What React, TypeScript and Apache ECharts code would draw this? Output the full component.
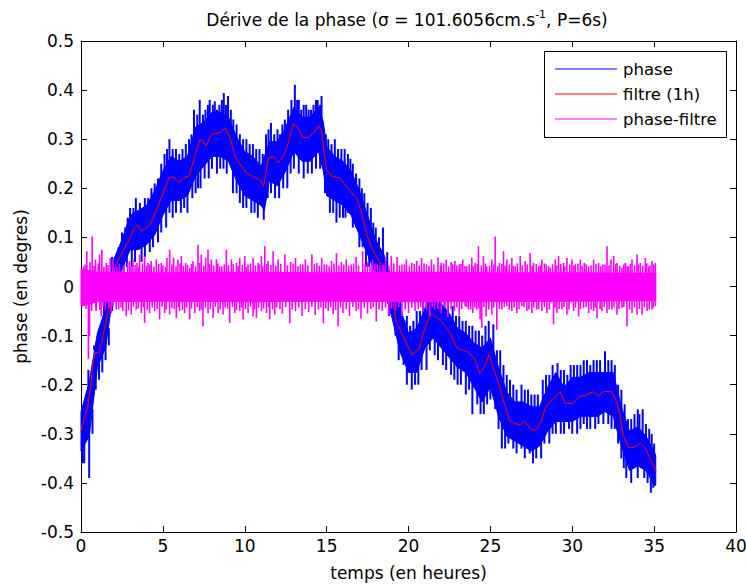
import React, { useEffect, useRef } from "react";
import * as echarts from "echarts";

const FONT = "DejaVu Sans";

const titleMain = "Dérive de la phase (σ = 101.6056cm.s";
const titleSup = "-1";
const titleEnd = ", P=6s)";
const xName = "temps (en heures)";
const yName = "phase (en degres)";
const legendNames = ["phase", "filtre (1h)", "phase-filtre"];
const legendColors = ["#0000ff", "#ff0000", "#ff00ff"];

// filtered phase (red line) [t, value]
const filtre: [number, number][] = [
  [0, -0.295], [0.2, -0.27], [0.4, -0.247], [0.6, -0.203], [0.7, -0.162], [0.85, -0.135],
  [1.1, -0.135], [1.3, -0.108], [1.6, -0.06], [1.8, -0.033], [2.05, 0.035], [2.15, 0.045],
  [2.4, 0.062], [2.85, 0.089], [3.25, 0.119], [3.45, 0.125], [3.7, 0.113], [4.2, 0.125],
  [4.6, 0.155], [5.0, 0.19], [5.4, 0.223], [5.7, 0.222], [6.0, 0.212], [6.3, 0.222],
  [6.6, 0.225], [6.95, 0.265], [7.25, 0.299], [7.45, 0.296], [7.65, 0.286], [7.95, 0.31],
  [8.2, 0.312], [8.5, 0.313], [8.8, 0.323], [9.1, 0.303], [9.4, 0.265], [9.7, 0.25],
  [10.1, 0.231], [10.5, 0.224], [10.9, 0.218], [11.15, 0.204], [11.45, 0.262], [11.75, 0.265],
  [12.05, 0.252], [12.35, 0.265], [12.65, 0.292], [12.95, 0.331], [13.25, 0.323], [13.55, 0.303],
  [13.9, 0.304], [14.2, 0.313], [14.5, 0.327], [14.7, 0.316], [14.85, 0.272], [15.0, 0.238],
  [15.3, 0.225], [15.8, 0.221], [16.2, 0.204], [16.45, 0.194], [16.85, 0.18], [17.15, 0.147],
  [17.45, 0.106], [17.75, 0.079], [18.15, 0.055], [18.45, 0.038], [18.75, 0.01], [19.0, -0.02],
  [19.25, -0.07], [19.65, -0.1], [20.2, -0.139], [20.65, -0.127], [21.0, -0.084], [21.35, -0.055],
  [21.8, -0.064], [22.15, -0.077], [22.55, -0.095], [22.95, -0.125], [23.6, -0.133], [24.0, -0.145],
  [24.35, -0.177], [24.65, -0.164], [24.92, -0.139], [25.17, -0.166], [25.47, -0.194], [25.88, -0.241],
  [26.2, -0.275], [26.8, -0.282], [27.1, -0.275], [27.5, -0.292], [27.8, -0.292], [28.1, -0.275],
  [28.35, -0.248], [28.65, -0.234], [28.95, -0.227], [29.25, -0.214], [29.55, -0.238], [30.05, -0.238],
  [30.45, -0.224], [30.85, -0.221], [31.3, -0.214], [31.6, -0.224], [31.9, -0.214], [32.4, -0.214],
  [32.7, -0.234], [32.9, -0.261], [33.1, -0.302], [33.45, -0.329], [33.85, -0.326], [34.15, -0.319],
  [34.45, -0.329], [34.75, -0.35], [35.12, -0.377],
];

// raw phase: dense band [t, low, high]
const phaseBand: [number, number, number][] = [
  [0, -0.335, -0.255], [0.5, -0.305, -0.195], [1.0, -0.165, -0.095], [1.5, -0.125, -0.045],
  [2.0, -0.005, 0.055], [2.5, 0.035, 0.095], [3.0, 0.075, 0.145], [3.5, 0.075, 0.155],
  [4.0, 0.085, 0.165], [4.5, 0.105, 0.195], [5.0, 0.145, 0.235], [5.5, 0.175, 0.265],
  [6.0, 0.175, 0.255], [6.5, 0.185, 0.265], [7.0, 0.225, 0.325], [7.5, 0.245, 0.335],
  [8.0, 0.265, 0.355], [8.5, 0.265, 0.355], [9.0, 0.255, 0.345], [9.5, 0.215, 0.305],
  [10.0, 0.185, 0.275], [10.5, 0.175, 0.265], [11.0, 0.165, 0.245], [11.2, 0.155, 0.265],
  [11.5, 0.215, 0.295], [12.0, 0.205, 0.295], [12.5, 0.235, 0.325], [13.0, 0.275, 0.365],
  [13.5, 0.255, 0.345], [14.0, 0.255, 0.345], [14.5, 0.275, 0.365], [14.8, 0.235, 0.335],
  [15.0, 0.185, 0.285], [15.5, 0.175, 0.265], [16.0, 0.165, 0.255], [16.5, 0.145, 0.235],
  [17.0, 0.105, 0.195], [17.5, 0.065, 0.145], [18.0, 0.025, 0.095], [18.5, -0.005, 0.065],
  [19.0, -0.065, 0.015], [19.5, -0.135, -0.045], [20.0, -0.175, -0.095], [20.5, -0.175, -0.085],
  [21.0, -0.125, -0.045], [21.5, -0.105, -0.015], [22.0, -0.125, -0.035], [22.5, -0.145, -0.055],
  [23.0, -0.165, -0.085], [23.5, -0.175, -0.095], [24.0, -0.205, -0.115], [24.5, -0.235, -0.125],
  [25.0, -0.205, -0.105], [25.5, -0.265, -0.165], [26.0, -0.305, -0.215], [26.5, -0.315, -0.235],
  [27.0, -0.325, -0.235], [27.5, -0.335, -0.245], [28.0, -0.325, -0.245], [28.5, -0.295, -0.205],
  [29.0, -0.275, -0.175], [29.5, -0.275, -0.205], [30.0, -0.275, -0.185], [30.5, -0.265, -0.185],
  [31.0, -0.265, -0.175], [31.5, -0.265, -0.175], [32.0, -0.255, -0.175], [32.5, -0.265, -0.175],
  [33.0, -0.325, -0.245], [33.5, -0.375, -0.295], [34.0, -0.365, -0.285], [34.5, -0.375, -0.305],
  [35.0, -0.405, -0.335], [35.1, -0.405, -0.345],
];

// raw phase spikes above / below the band [t, tip]
const phaseSpikesUp: [number, number][] = [
  [0.45, -0.17], [1.2, -0.08], [1.55, -0.01], [2.3, 0.08], [2.7, 0.12], [3.0, 0.16], [3.35, 0.18],
  [3.9, 0.18], [4.3, 0.2], [4.7, 0.22], [5.1, 0.27], [5.4, 0.3], [5.8, 0.28], [6.2, 0.28],
  [6.6, 0.3], [6.9, 0.36], [7.25, 0.38], [7.6, 0.36], [7.86, 0.38], [8.17, 0.377], [8.45, 0.37],
  [8.72, 0.394], [8.98, 0.388], [9.3, 0.34], [9.7, 0.31], [10.1, 0.3], [10.5, 0.29], [10.9, 0.28],
  [11.3, 0.31], [11.6, 0.333], [12.0, 0.32], [12.3, 0.33], [12.65, 0.36], [13.06, 0.411], [13.3, 0.38],
  [13.6, 0.37], [13.9, 0.36], [14.2, 0.37], [14.45, 0.38], [14.69, 0.388], [15.1, 0.3], [15.5, 0.3],
  [15.9, 0.28], [16.3, 0.27], [16.6, 0.25], [17.0, 0.22], [17.3, 0.19], [17.7, 0.16], [18.0, 0.12],
  [18.44, 0.12], [19.3, -0.02], [19.9, -0.06], [20.5, -0.05], [20.9, -0.02], [21.3, 0.0], [21.7, -0.01],
  [22.2, -0.02], [22.7, -0.04], [23.1, -0.06], [23.5, -0.07], [23.9, -0.08], [24.3, -0.09], [24.7, -0.08],
  [25.18, -0.077], [25.6, -0.13], [26.0, -0.18], [26.4, -0.2], [26.9, -0.2], [27.3, -0.21], [27.7, -0.22],
  [28.2, -0.19], [28.6, -0.18], [29.1, -0.156], [29.5, -0.17], [29.9, -0.16], [30.3, -0.16], [30.7, -0.15],
  [31.1, -0.16], [31.5, -0.15], [32.0, -0.132], [32.4, -0.15], [32.8, -0.2], [33.2, -0.24], [33.6, -0.27],
  [34.0, -0.25], [34.3, -0.25], [34.7, -0.29], [35.0, -0.32],
  [0.3, -0.22], [0.8, -0.12], [1.4, -0.03], [1.9, 0.06], [2.5, 0.11], [2.85, 0.14], [3.2, 0.16],
  [3.6, 0.17], [4.1, 0.18], [4.5, 0.21], [4.9, 0.25], [5.25, 0.28], [5.6, 0.28], [6.0, 0.27],
  [6.4, 0.29], [6.75, 0.31], [7.1, 0.35], [7.45, 0.35], [7.75, 0.37], [8.05, 0.37], [8.3, 0.36],
  [8.6, 0.38], [8.85, 0.37], [9.15, 0.36], [9.5, 0.33], [9.9, 0.3], [10.3, 0.29], [10.7, 0.28],
  [11.1, 0.27], [11.45, 0.32], [11.8, 0.31], [12.15, 0.31], [12.45, 0.34], [12.85, 0.38], [13.2, 0.38],
  [13.45, 0.36], [13.75, 0.37], [14.05, 0.36], [14.35, 0.38], [14.6, 0.37], [14.95, 0.31], [15.3, 0.29],
  [15.7, 0.28], [16.1, 0.28], [16.45, 0.26], [16.8, 0.23], [17.15, 0.2], [17.5, 0.17], [17.85, 0.13],
  [18.2, 0.1], [18.7, 0.07], [19.1, 0.02], [19.5, -0.03], [19.75, -0.07], [20.1, -0.08], [20.3, -0.07],
  [20.7, -0.05], [21.1, -0.02], [21.5, 0.0], [21.9, -0.02], [22.4, -0.03], [22.9, -0.06], [23.3, -0.07],
  [23.7, -0.08], [24.1, -0.09], [24.5, -0.1], [24.9, -0.07], [25.4, -0.13], [25.8, -0.16], [26.2, -0.19],
  [26.6, -0.21], [27.1, -0.21], [27.5, -0.22], [27.9, -0.22], [28.4, -0.18], [28.8, -0.16], [29.3, -0.17],
  [29.7, -0.18], [30.1, -0.16], [30.5, -0.16], [30.9, -0.15], [31.3, -0.15], [31.7, -0.15], [32.2, -0.15],
  [32.6, -0.16], [33.0, -0.21], [33.4, -0.27], [33.8, -0.26], [34.1, -0.26], [34.5, -0.28], [34.85, -0.3],
];
const phaseSpikesDown: [number, number][] = [
  [0.2, -0.36], [0.5, -0.39], [0.9, -0.21], [1.3, -0.175], [1.7, -0.12], [2.6, 0.0], [3.1, 0.04],
  [3.7, 0.05], [4.2, 0.07], [4.7, 0.09], [5.2, 0.12], [5.6, 0.14], [6.1, 0.15], [6.5, 0.15],
  [7.0, 0.19], [7.3, 0.2], [7.8, 0.22], [8.3, 0.23], [8.7, 0.24], [9.28, 0.19], [9.7, 0.17],
  [10.1, 0.16], [10.6, 0.15], [11.16, 0.136], [11.6, 0.19], [12.1, 0.18], [12.6, 0.2], [13.0, 0.24],
  [13.6, 0.22], [14.1, 0.23], [14.6, 0.24], [15.2, 0.15], [15.6, 0.13], [16.0, 0.14], [16.3, 0.15],
  [16.8, 0.12], [17.2, 0.08], [17.6, 0.04], [18.0, 0.0], [19.2, -0.1], [19.7, -0.16], [20.2, -0.21],
  [20.6, -0.2], [21.1, -0.17], [21.6, -0.14], [22.1, -0.16], [22.6, -0.18], [23.0, -0.2], [23.5, -0.22],
  [23.9, -0.26], [24.4, -0.26], [24.8, -0.24], [25.3, -0.25], [25.7, -0.33], [26.1, -0.32], [26.4, -0.33],
  [26.9, -0.33], [27.4, -0.34], [27.8, -0.35], [28.3, -0.32], [28.8, -0.3], [29.3, -0.3], [29.8, -0.29],
  [30.3, -0.3], [30.7, -0.28], [31.1, -0.29], [31.6, -0.28], [32.2, -0.28], [32.6, -0.29], [33.0, -0.35],
  [33.3, -0.39], [33.8, -0.37], [34.2, -0.37], [34.6, -0.4], [34.95, -0.41],
  [0.1, -0.36], [0.7, -0.3], [1.1, -0.19], [1.5, -0.15], [1.9, -0.05], [2.3, 0.0], [2.8, 0.04],
  [3.3, 0.05], [3.9, 0.06], [4.4, 0.08], [4.9, 0.11], [5.4, 0.15], [5.8, 0.15], [6.3, 0.16],
  [6.8, 0.18], [7.15, 0.2], [7.55, 0.22], [8.0, 0.24], [8.5, 0.24], [8.9, 0.23], [9.5, 0.19],
  [9.9, 0.16], [10.4, 0.15], [10.8, 0.14], [11.4, 0.18], [11.85, 0.18], [12.35, 0.2], [12.8, 0.23],
  [13.3, 0.23], [13.85, 0.23], [14.35, 0.24], [14.9, 0.19], [15.4, 0.15], [15.8, 0.14], [16.15, 0.14],
  [16.6, 0.12], [17.0, 0.08], [17.4, 0.04], [17.8, 0.0], [18.3, -0.03], [18.8, -0.06], [19.4, -0.15],
  [19.9, -0.2], [20.4, -0.2], [20.8, -0.17], [21.3, -0.13], [21.8, -0.15], [22.3, -0.17], [22.8, -0.19],
  [23.2, -0.2], [23.7, -0.21], [24.2, -0.24], [24.6, -0.26], [25.0, -0.23], [25.5, -0.29], [25.9, -0.33],
  [26.6, -0.34], [27.1, -0.35], [27.6, -0.36], [28.1, -0.35], [28.6, -0.32], [29.0, -0.3], [29.5, -0.3],
  [30.0, -0.3], [30.5, -0.29], [30.9, -0.29], [31.4, -0.29], [31.9, -0.28], [32.4, -0.29], [32.8, -0.32],
  [33.15, -0.37], [33.6, -0.4], [34.0, -0.39], [34.4, -0.39], [34.8, -0.42],
];

// phase - filtre: dense core [t, low, high]
const residuCore: [number, number, number][] = [
  [0, -0.04, 0.035], [1, -0.031, 0.029], [5, -0.03, 0.028], [10, -0.031, 0.029],
  [15, -0.03, 0.028], [20, -0.031, 0.029], [25, -0.031, 0.028], [30, -0.03, 0.028],
  [35.1, -0.029, 0.027],
];

// phase - filtre spikes [t, tip]
const residuSpikesUp: [number, number][] = [
  [0.153, 0.041], [0.357, 0.072], [0.683, 0.102], [0.887, 0.055], [1.131, 0.065], [1.274, 0.075],
  [1.539, 0.048], [1.784, 0.058], [1.947, 0.055], [2.191, 0.041], [2.966, 0.052], [3.17, 0.055],
  [3.415, 0.048], [3.578, 0.065], [3.884, 0.062], [4.088, 0.048], [4.291, 0.052], [4.597, 0.055],
  [4.903, 0.048], [5.25, 0.058], [5.413, 0.075], [5.657, 0.058], [5.922, 0.055], [6.126, 0.062],
  [6.391, 0.048], [6.636, 0.038], [6.84, 0.052], [7.146, 0.085], [7.349, 0.065], [7.614, 0.058],
  [7.757, 0.075], [7.961, 0.055], [8.267, 0.055], [8.471, 0.041], [8.878, 0.075], [9.184, 0.055],
  [9.49, 0.048], [9.694, 0.058], [9.999, 0.062], [10.203, 0.045], [10.509, 0.058], [10.815, 0.048],
  [11.019, 0.062], [11.223, 0.082], [11.427, 0.052], [11.733, 0.072], [12.038, 0.055],
  [12.45, 0.065], [12.8, 0.05], [13.1, 0.058], [13.4, 0.045], [13.7, 0.055], [14.1, 0.065],
  [14.4, 0.048], [14.7, 0.058], [15.0, 0.045], [15.3, 0.052], [15.6, 0.068], [15.9, 0.05],
  [16.2, 0.055], [16.5, 0.045], [16.8, 0.06], [17.2, 0.072], [17.5, 0.05], [17.8, 0.055],
  [18.1, 0.045], [18.6, 0.058], [18.95, 0.062], [19.3, 0.06], [19.6, 0.045], [19.87, 0.055],
  [20.2, 0.048], [20.5, 0.052], [20.8, 0.058], [21.1, 0.045], [21.4, 0.055], [21.8, 0.059],
  [22.0, 0.048], [22.3, 0.055], [22.6, 0.05], [22.83, 0.052], [23.1, 0.045],
  [23.313, 0.055], [23.558, 0.041], [23.864, 0.058], [24.067, 0.048], [24.271, 0.082], [24.577, 0.062],
  [24.781, 0.041], [25.087, 0.055], [25.291, 0.102], [25.556, 0.048], [25.8, 0.072], [26.004, 0.055],
  [26.31, 0.058], [26.514, 0.041], [26.82, 0.062], [27.126, 0.052], [27.431, 0.068], [27.635, 0.048],
  [27.941, 0.041], [28.145, 0.055], [28.41, 0.045], [28.655, 0.038], [28.96, 0.055], [29.164, 0.062],
  [29.47, 0.048], [29.674, 0.058], [29.98, 0.055], [30.184, 0.045], [30.49, 0.055], [30.734, 0.048],
  [30.999, 0.041], [31.305, 0.055], [31.611, 0.048], [31.876, 0.045], [32.121, 0.082], [32.365, 0.055],
  [32.528, 0.062], [32.732, 0.048], [33.038, 0.038], [33.242, 0.048], [33.446, 0.041], [33.65, 0.055],
  [33.955, 0.065], [34.159, 0.048], [34.465, 0.058], [34.669, 0.041], [34.873, 0.052], [35.077, 0.048],
  [0.25, 0.045], [0.55, 0.05], [0.8, 0.042], [1.05, 0.047], [1.4, 0.04], [1.65, 0.044], [2.05, 0.038],
  [2.35, 0.046], [2.6, 0.043], [2.85, 0.048], [3.05, 0.04], [3.3, 0.044], [3.5, 0.039], [3.75, 0.047],
  [4.0, 0.042], [4.2, 0.045], [4.45, 0.04], [4.75, 0.046], [5.0, 0.043], [5.15, 0.04], [5.55, 0.045],
  [5.8, 0.041], [6.05, 0.047], [6.25, 0.042], [6.5, 0.044], [6.75, 0.046], [7.0, 0.041], [7.25, 0.048],
  [7.5, 0.042], [7.85, 0.046], [8.1, 0.043], [8.35, 0.047], [8.6, 0.041], [8.75, 0.045], [9.0, 0.043],
  [9.3, 0.046], [9.6, 0.042], [9.85, 0.044], [10.1, 0.04], [10.35, 0.047], [10.65, 0.043], [10.9, 0.045],
  [11.1, 0.041], [11.35, 0.046], [11.6, 0.044], [11.9, 0.042], [12.2, 0.046], [12.6, 0.043], [12.95, 0.047],
  [13.25, 0.041], [13.55, 0.045], [13.85, 0.043], [14.25, 0.046], [14.55, 0.042], [14.85, 0.045],
  [15.15, 0.041], [15.45, 0.047], [15.75, 0.043], [16.05, 0.045], [16.35, 0.042], [16.65, 0.047],
  [16.95, 0.043], [17.35, 0.045], [17.65, 0.041], [17.95, 0.046], [18.25, 0.043], [18.45, 0.045],
  [18.8, 0.042], [19.1, 0.047], [19.45, 0.043], [19.75, 0.045], [20.05, 0.041], [20.35, 0.046],
  [20.65, 0.043], [20.95, 0.047], [21.25, 0.042], [21.55, 0.045], [21.95, 0.043], [22.15, 0.047],
  [22.45, 0.041], [22.7, 0.045], [22.95, 0.043], [23.2, 0.046], [23.45, 0.042], [23.7, 0.045],
  [23.95, 0.041], [24.2, 0.046], [24.45, 0.043], [24.7, 0.047], [24.95, 0.042], [25.2, 0.045],
  [25.45, 0.041], [25.7, 0.046], [25.9, 0.043], [26.15, 0.045], [26.4, 0.042], [26.65, 0.047],
  [26.95, 0.043], [27.25, 0.045], [27.55, 0.041], [27.8, 0.046], [28.05, 0.043], [28.3, 0.047],
  [28.55, 0.042], [28.8, 0.045], [29.05, 0.043], [29.3, 0.046], [29.55, 0.041], [29.85, 0.045],
  [30.1, 0.043], [30.35, 0.047], [30.6, 0.042], [30.85, 0.045], [31.15, 0.043], [31.45, 0.046],
  [31.75, 0.041], [32.0, 0.045], [32.25, 0.043], [32.65, 0.046], [32.9, 0.042], [33.15, 0.045],
  [33.35, 0.041], [33.55, 0.046], [33.8, 0.043], [34.05, 0.045], [34.3, 0.042], [34.55, 0.047],
  [34.75, 0.043], [34.97, 0.045],
];
const residuSpikesDown: [number, number][] = [
  [0.112, -0.04], [0.45, -0.148], [0.52, -0.101], [0.927, -0.05], [1.233, -0.061], [1.498, -0.047],
  [1.845, -0.054], [2.151, -0.047], [2.558, -0.05], [2.762, -0.061], [3.068, -0.057], [3.374, -0.047],
  [3.68, -0.054], [3.884, -0.074], [4.189, -0.054], [4.495, -0.05], [4.801, -0.067], [5.107, -0.054],
  [5.413, -0.057], [5.82, -0.064], [6.024, -0.05], [6.33, -0.054], [6.636, -0.067], [6.942, -0.054],
  [7.247, -0.05], [7.451, -0.081], [7.757, -0.054], [8.063, -0.064], [8.369, -0.054], [8.675, -0.057],
  [9.082, -0.074], [9.388, -0.054], [9.694, -0.05], [9.898, -0.067], [10.203, -0.054], [10.509, -0.061],
  [10.713, -0.064], [11.019, -0.05], [11.325, -0.054], [11.529, -0.067], [11.835, -0.057],
  [12.3, -0.055], [12.75, -0.075], [13.1, -0.05], [13.5, -0.06], [13.9, -0.052], [14.3, -0.058],
  [14.8, -0.075], [15.1, -0.05], [15.4, -0.056], [15.7, -0.081], [16.0, -0.054], [16.4, -0.06],
  [16.8, -0.05], [17.1, -0.065], [17.5, -0.055], [18.03, -0.071], [18.4, -0.05], [18.8, -0.058],
  [19.2, -0.048], [19.6, -0.06], [20.0, -0.054], [20.4, -0.05], [20.9, -0.051], [21.3, -0.06],
  [21.6, -0.047], [22.0, -0.055], [22.4, -0.062], [22.8, -0.05], [23.1, -0.058],
  [23.456, -0.04], [23.66, -0.047], [23.925, -0.054], [24.169, -0.047], [24.373, -0.067], [24.475, -0.084],
  [24.74, -0.061], [25.087, -0.057], [25.393, -0.088], [25.698, -0.047], [26.004, -0.04], [26.31, -0.05],
  [26.616, -0.054], [26.922, -0.04], [27.227, -0.05], [27.533, -0.054], [27.839, -0.047], [28.145, -0.05],
  [28.451, -0.054], [28.859, -0.077], [29.062, -0.054], [29.368, -0.047], [29.674, -0.057], [30.082, -0.05],
  [30.388, -0.061], [30.693, -0.044], [30.999, -0.054], [31.305, -0.05], [31.509, -0.064], [31.815, -0.05],
  [32.121, -0.054], [32.426, -0.047], [32.732, -0.057], [33.038, -0.044], [33.344, -0.081], [33.65, -0.054],
  [33.955, -0.057], [34.261, -0.057], [34.567, -0.05], [34.873, -0.047], [35.077, -0.04],
  [0.3, -0.046], [0.65, -0.05], [0.9, -0.043], [1.15, -0.048], [1.35, -0.041], [1.7, -0.045], [1.95, -0.04],
  [2.3, -0.047], [2.45, -0.043], [2.9, -0.049], [3.2, -0.041], [3.5, -0.045], [3.8, -0.042], [4.05, -0.048],
  [4.35, -0.043], [4.65, -0.046], [4.95, -0.041], [5.2, -0.047], [5.55, -0.044], [5.7, -0.046], [5.95, -0.042],
  [6.2, -0.048], [6.45, -0.043], [6.75, -0.045], [7.1, -0.042], [7.35, -0.047], [7.6, -0.043], [7.9, -0.046],
  [8.2, -0.041], [8.5, -0.047], [8.8, -0.043], [8.95, -0.045], [9.25, -0.042], [9.5, -0.048], [9.8, -0.043],
  [10.05, -0.046], [10.35, -0.041], [10.6, -0.047], [10.85, -0.043], [11.15, -0.045], [11.45, -0.042],
  [11.7, -0.047], [11.95, -0.043], [12.15, -0.046], [12.5, -0.042], [12.9, -0.047], [13.3, -0.043],
  [13.7, -0.046], [14.1, -0.041], [14.5, -0.047], [14.65, -0.043], [14.95, -0.045], [15.25, -0.042],
  [15.55, -0.048], [15.85, -0.043], [16.2, -0.046], [16.6, -0.042], [16.95, -0.047], [17.3, -0.043],
  [17.7, -0.046], [17.85, -0.042], [18.2, -0.047], [18.6, -0.043], [18.95, -0.045], [19.4, -0.042],
  [19.8, -0.047], [20.2, -0.043], [20.6, -0.046], [20.75, -0.042], [21.1, -0.047], [21.45, -0.043],
  [21.8, -0.046], [22.2, -0.042], [22.6, -0.047], [22.95, -0.043], [23.25, -0.046], [23.55, -0.042],
  [23.8, -0.047], [24.05, -0.043], [24.3, -0.045], [24.6, -0.042], [24.9, -0.047], [25.2, -0.043],
  [25.55, -0.046], [25.85, -0.042], [26.15, -0.047], [26.45, -0.043], [26.75, -0.046], [27.05, -0.042],
  [27.35, -0.047], [27.65, -0.043], [27.95, -0.046], [28.3, -0.042], [28.6, -0.047], [28.95, -0.043],
  [29.2, -0.046], [29.5, -0.042], [29.8, -0.047], [30.2, -0.043], [30.5, -0.046], [30.85, -0.042],
  [31.15, -0.047], [31.4, -0.043], [31.7, -0.046], [31.95, -0.042], [32.25, -0.047], [32.55, -0.043],
  [32.85, -0.046], [33.15, -0.042], [33.5, -0.047], [33.8, -0.043], [34.1, -0.046], [34.4, -0.042],
  [34.7, -0.047], [34.95, -0.043],
];

function bandMid(t: number): number {
  let best = phaseBand[0];
  for (const r of phaseBand) if (Math.abs(r[0] - t) < Math.abs(best[0] - t)) best = r;
  return (best[1] + best[2]) / 2;
}

function bandRender(rows: [number, number, number][], color: string) {
  return (params: any, api: any) => {
    if (params.dataIndex !== 0) return null;
    const top = rows.map((r) => api.coord([r[0], r[2]]));
    const bottom = rows.slice().reverse().map((r) => api.coord([r[0], r[1]]));
    return {
      type: "polygon",
      shape: { points: top.concat(bottom) },
      style: { fill: color, stroke: color, lineWidth: 1 },
      silent: true,
    };
  };
}

function spikeRender(color: string, width: number) {
  return (_params: any, api: any) => {
    const a = api.coord([api.value(0), api.value(1)]);
    const b = api.coord([api.value(0), api.value(2)]);
    return {
      type: "line",
      shape: { x1: a[0], y1: a[1], x2: b[0], y2: b[1] },
      style: { stroke: color, lineWidth: width },
      silent: true,
    };
  };
}

export default function App() {
  const ref = useRef<HTMLDivElement>(null);
  useEffect(() => {
    if (!ref.current) return;
    const chart = echarts.init(ref.current, undefined, { renderer: "svg" });
    const blue = legendColors[0];
    const red = legendColors[1];
    const mag = legendColors[2];
    const phaseSpikes = phaseSpikesUp
      .concat(phaseSpikesDown)
      .map(([t, v]) => [t, bandMid(t), v]);
    const residuSpikes = residuSpikesUp.concat(residuSpikesDown).map(([t, v]) => [t, 0, v]);
    const axisText = { color: "#000", fontSize: 17, fontFamily: FONT };
    const baseX = {
      type: "value",
      min: 0,
      max: 40,
      interval: 5,
      splitLine: { show: false },
      axisLine: { onZero: false, lineStyle: { color: "#000", width: 1 } },
      axisTick: { inside: true, length: 6, lineStyle: { color: "#000" } },
    };
    const baseY = {
      type: "value",
      min: -0.5,
      max: 0.5,
      interval: 0.1,
      splitLine: { show: false },
      axisLine: { onZero: false, lineStyle: { color: "#000", width: 1 } },
      axisTick: { inside: true, length: 6, lineStyle: { color: "#000" } },
    };
    const legendY = [69, 94, 119];
    chart.setOption({
      animation: false,
      backgroundColor: "#fff",
      grid: {
        left: 81,
        right: 10,
        top: 41,
        bottom: 55,
        containLabel: false,
        outerBoundsMode: "none",
      },
      xAxis: [
        {
          ...baseX,
          position: "bottom",
          axisLabel: { ...axisText, margin: 5 },
          name: xName,
          nameLocation: "middle",
          nameGap: 32,
          nameTextStyle: axisText,
        },
        { ...baseX, position: "top", axisLabel: { show: false } },
      ],
      yAxis: [
        {
          ...baseY,
          position: "left",
          axisLabel: { ...axisText, margin: 7 },
          name: yName,
          nameLocation: "middle",
          nameGap: 48,
          nameTextStyle: axisText,
        },
        { ...baseY, position: "right", axisLabel: { show: false } },
      ],
      graphic: [
        {
          type: "text",
          x: 407,
          y: 20,
          style: {
            text: `{a|${titleMain}}{b|${titleSup}}{a|${titleEnd}}`,
            align: "center",
            verticalAlign: "middle",
            rich: {
              a: { fontSize: 17, fontFamily: FONT, fill: "#000", lineHeight: 22 },
              b: { fontSize: 11, fontFamily: FONT, fill: "#000", verticalAlign: "top", lineHeight: 22 },
            },
          },
        },
        {
          type: "rect",
          shape: { x: 544.5, y: 51.5, width: 182, height: 86 },
          style: { fill: "#fff", stroke: "#000", lineWidth: 1 },
          z: 10,
        },
        ...legendNames.flatMap((n, i) => [
          {
            type: "line",
            shape: { x1: 555, y1: legendY[i], x2: 617, y2: legendY[i] },
            style: { stroke: legendColors[i], lineWidth: 1 },
            z: 11,
          },
          {
            type: "text",
            x: 623,
            y: legendY[i],
            style: {
              text: n,
              fontSize: 16.5,
              fontFamily: FONT,
              fill: "#000",
              verticalAlign: "middle",
              align: "left",
            },
            z: 11,
          },
        ]),
      ],
      series: [
        {
          name: legendNames[0],
          type: "custom",
          renderItem: bandRender(phaseBand, blue),
          data: phaseBand,
          encode: { x: 0, y: [1, 2] },
          z: 2,
        },
        {
          name: legendNames[0],
          type: "custom",
          renderItem: spikeRender(blue, 2),
          data: phaseSpikes,
          encode: { x: 0, y: [1, 2] },
          z: 2,
        },
        {
          name: legendNames[1],
          type: "line",
          data: filtre,
          symbol: "none",
          lineStyle: { color: red, width: 1 },
          z: 3,
        },
        {
          name: legendNames[2],
          type: "custom",
          renderItem: bandRender(residuCore, mag),
          data: residuCore,
          encode: { x: 0, y: [1, 2] },
          z: 4,
        },
        {
          name: legendNames[2],
          type: "custom",
          renderItem: spikeRender(mag, 1.6),
          data: residuSpikes,
          encode: { x: 0, y: [1, 2] },
          z: 4,
        },
      ],
    });
    return () => chart.dispose();
  }, []);
  return (
    <div
      ref={ref}
      style={{ position: "fixed", left: 0, top: 0, width: 746, height: 587, background: "#fff" }}
    />
  );
}
